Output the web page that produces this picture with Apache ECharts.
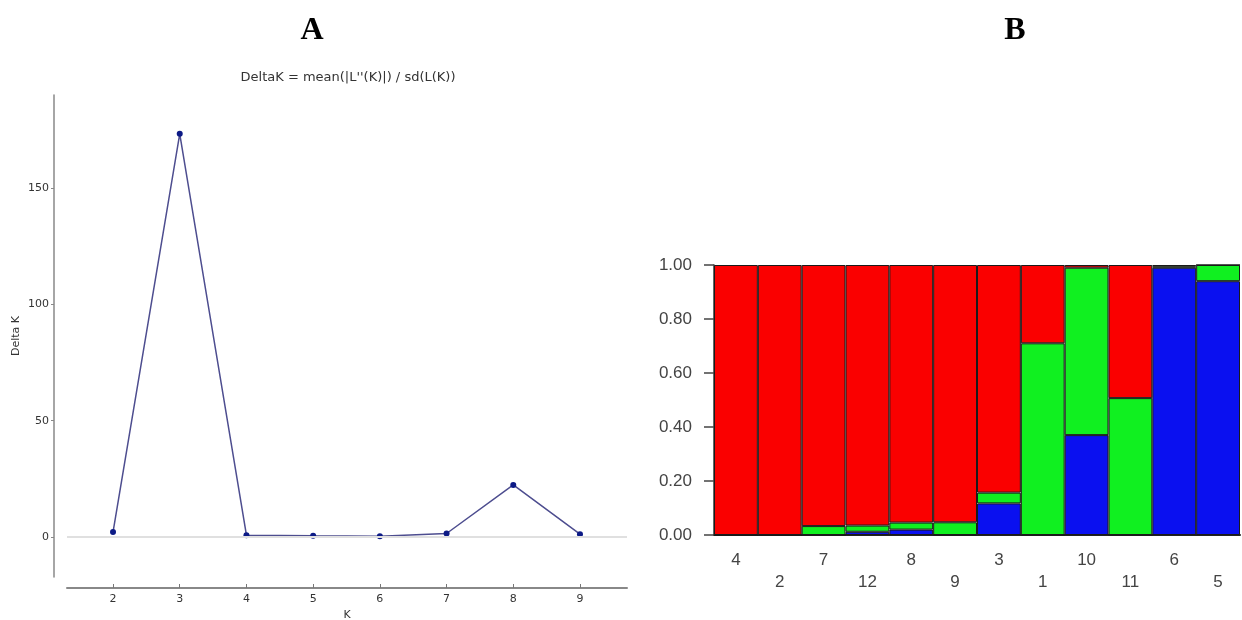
<!DOCTYPE html>
<html>
<head>
<meta charset="utf-8">
<script src="https://cdn.jsdelivr.net/npm/echarts@6/dist/echarts.min.js"></script>
<style>
  html, body { margin: 0; padding: 0; background: #fff; }
  #main { width: 1242px; height: 620px; }
</style>
</head>
<body>
<div id="main"></div>
<script>
// A: DeltaK by K
var kValues = [2, 3, 4, 5, 6, 7, 8, 9];
var deltaK = [2.1, 173.3, 0.8, 0.5, 0.3, 1.5, 22.4, 1.2];
var kTicks = [2, 3, 4, 5, 6, 7, 8, 9];
var deltaTicks = [0, 50, 100, 150];

// B: membership per population (stacked)
var pops = ['4', '2', '7', '12', '8', '9', '3', '1', '10', '11', '6', '5'];
var clusterBlue = [0, 0, 0, 0.012, 0.02, 0, 0.117, 0, 0.37, 0, 0.99, 0.94];
var clusterGreen = [0, 0, 0.033, 0.023, 0.026, 0.047, 0.04, 0.71, 0.62, 0.507, 0.005, 0.06];
var clusterRed = [1, 1, 0.967, 0.965, 0.954, 0.953, 0.843, 0.29, 0.01, 0.493, 0.005, 0];

var myChart = echarts.init(document.getElementById('main'));

var lineData = kValues.map(function (k, i) { return [k, deltaK[i]]; });

function barSeries(name, color, data) {
	return {
		name: name,
		type: 'bar',
		xAxisIndex: 1,
		yAxisIndex: 1,
		stack: 'q',
		barWidth: '100%',
		itemStyle: { color: color, borderColor: '#1a1a1a', borderWidth: 1 },
		data: data
	};
}

option = {
	animation: false,
	backgroundColor: '#fff',
	graphic: [
		{ type: 'text', x: 312, y: 31, style: { text: 'A', font: 'bold 32px "Liberation Serif"', fill: '#000', align: 'center', verticalAlign: 'middle' } },
		{ type: 'text', x: 1015, y: 31, style: { text: 'B', font: 'bold 32px "Liberation Serif"', fill: '#000', align: 'center', verticalAlign: 'middle' } },
		{ type: 'text', x: 348, y: 78, style: { text: "DeltaK = mean(|L''(K)|) / sd(L(K))", font: '13px "DejaVu Sans"', fill: '#333', align: 'center', verticalAlign: 'middle' } }
	],
	grid: [
		{ left: 67, top: 95, width: 560, height: 482, outerBoundsMode: 'none', containLabel: false },
		{ left: 714, top: 265, right: 2, height: 270, outerBoundsMode: 'none', containLabel: false }
	],
	xAxis: [{
		type: 'value',
		gridIndex: 0,
		min: 1.31,
		max: 9.705,
		offset: 11,
		name: 'K',
		nameLocation: 'middle',
		nameGap: 20,
		nameTextStyle: { fontSize: 11, color: '#333', fontFamily: 'DejaVu Sans' },
		axisLine: { show: true, onZero: false, lineStyle: { color: '#888', width: 2 } },
		axisTick: { show: true, inside: true, customValues: kTicks, length: 4, lineStyle: { color: '#777' } },
		axisLabel: { customValues: kTicks, fontSize: 11, color: '#333', margin: 6, fontFamily: 'DejaVu Sans' },
		splitLine: { show: false }
	}, {
		type: 'category',
		gridIndex: 1,
		data: pops,
		axisLine: { lineStyle: { color: '#222', width: 2 } },
		axisTick: { alignWithLabel: true, length: 11, lineStyle: { color: '#444', width: 1.5 } },
		axisLabel: {
			interval: 0,
			fontSize: 17,
			lineHeight: 22,
			color: '#444',
			margin: 14,
			fontFamily: 'Liberation Sans',
			formatter: function (v, i) { return i % 2 ? '\n' + v : v; }
		}
	}],
	yAxis: [{
		type: 'value',
		gridIndex: 0,
		min: -17.2,
		max: 190,
		offset: 13,
		name: 'Delta K',
		nameLocation: 'middle',
		nameGap: 32,
		nameTextStyle: { fontSize: 11, color: '#333', fontFamily: 'DejaVu Sans' },
		axisLine: { show: true, lineStyle: { color: '#888', width: 1.5 } },
		axisTick: { show: true, customValues: deltaTicks, length: 3, lineStyle: { color: '#888' } },
		axisLabel: { customValues: deltaTicks, fontSize: 11, color: '#333', margin: 5, fontFamily: 'DejaVu Sans' },
		splitLine: { show: false }
	}, {
		type: 'value',
		gridIndex: 1,
		min: 0,
		max: 1,
		interval: 0.2,
		axisLine: { show: true, lineStyle: { color: '#333', width: 1.5 } },
		axisTick: { show: true, length: 10, lineStyle: { color: '#444', width: 1.5 } },
		axisLabel: {
			fontSize: 17,
			color: '#444',
			margin: 22,
			fontFamily: 'Liberation Sans',
			formatter: function (v) { return v.toFixed(2); }
		},
		splitLine: { show: false }
	}],
	series: [{
		name: 'DeltaK',
		type: 'line',
		xAxisIndex: 0,
		yAxisIndex: 0,
		data: lineData,
		symbol: 'circle',
		symbolSize: 6,
		lineStyle: { color: '#4d4d8f', width: 1.5 },
		itemStyle: { color: '#0c1a86' },
		z: 3,
		markLine: {
			silent: true,
			symbol: 'none',
			label: { show: false },
			lineStyle: { color: '#e0e0e0', width: 2, type: 'solid' },
			data: [{ yAxis: 0 }]
		}
	},
	barSeries('Cluster 3', '#0a10f0', clusterBlue),
	barSeries('Cluster 2', '#10f020', clusterGreen),
	barSeries('Cluster 1', '#fa0000', clusterRed)
	]
};

myChart.setOption(option);
</script>
</body>
</html>
